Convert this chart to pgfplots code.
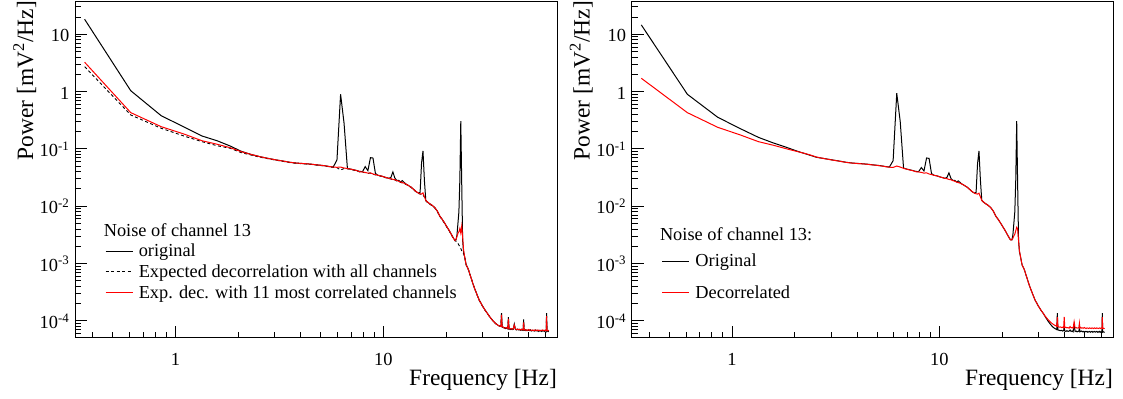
\documentclass[border=0pt]{standalone}
\usepackage{fontspec}
\setmainfont{Liberation Serif}
\usepackage{pgfplots}
\usepackage{pgfplotstable}
\pgfplotsset{compat=1.18}
% f : frequency; bl, da, re : left panel (original, all channels, 11 channels); rbl, rre : right panel
\pgfplotstableread{
f bl da re rbl rre
0.366 18.2 2.71 3.24 14.5 1.70
0.610 1.03 0.389 0.427 0.893 0.427
0.854 0.378 0.228 0.243 0.355 0.237
1.099 0.240 0.167 0.181 0.224 0.174
1.343 0.167 0.133 0.138 0.158 0.133
1.587 0.138 0.113 0.120 0.126 0.115
1.831 0.112 0.102 0.1045 0.106 0.100
2.075 0.0902 0.0855 0.0889 0.0902 0.0891
2.319 0.0794 0.0776 0.0794 0.0794 0.0804
2.563 0.0724 0.0711 0.0724 0.0708 0.0716
2.808 0.0676 0.0668 0.0676 0.0672 0.0670
3.052 0.0638 0.0631 0.0638 0.0638 0.0635
3.296 0.0610 0.0603 0.0610 0.0610 0.0607
3.540 0.0582 0.0575 0.0582 0.0582 0.0580
3.784 0.0565 0.0560 0.0565 0.0565 0.0563
4.028 0.0555 0.0550 0.0555 0.0555 0.0553
4.272 0.0547 0.0542 0.0547 0.0547 0.0545
4.517 0.0537 0.0532 0.0537 0.0537 0.0535
4.761 0.0525 0.0520 0.0525 0.0525 0.0523
5.005 0.0515 0.0510 0.0515 0.0515 0.0513
5.249 0.0504 0.0499 0.0504 0.0504 0.0502
5.493 0.0490 0.0485 0.0490 0.0490 0.0488
5.737 0.0479 0.0474 0.0479 0.0479 0.0477
5.981 0.0638 0.0468 0.0475 0.0620 0.0473
6.226 0.893 0.0427 0.0479 0.93 0.0500
6.470 0.279 0.0452 0.0462 0.30 0.0480
6.714 0.0455 0.0447 0.0452 0.0460 0.0455
6.958 0.0442 0.0437 0.0442 0.0442 0.0440
7.202 0.0429 0.0424 0.0429 0.0429 0.0427
7.446 0.0417 0.0413 0.0417 0.0417 0.0415
7.690 0.0403 0.0394 0.0398 0.0403 0.0398
7.935 0.0399 0.0390 0.0394 0.0399 0.0394
8.179 0.0488 0.0383 0.0387 0.0470 0.0387
8.423 0.0415 0.0372 0.0376 0.0410 0.0376
8.667 0.0700 0.0376 0.0380 0.0690 0.0380
8.911 0.0690 0.0359 0.0363 0.0680 0.0363
9.155 0.0372 0.0351 0.0355 0.0370 0.0355
9.399 0.0345 0.0341 0.0345 0.0345 0.0345
9.644 0.0339 0.0335 0.0339 0.0339 0.0339
9.888 0.0330 0.0326 0.0330 0.0330 0.0330
10.132 0.0320 0.0316 0.0320 0.0320 0.0320
10.376 0.0313 0.0309 0.0313 0.0313 0.0313
10.620 0.0305 0.0302 0.0305 0.0305 0.0305
10.864 0.0316 0.0297 0.0301 0.0316 0.0301
11.108 0.0394 0.0288 0.0292 0.0380 0.0292
11.353 0.0309 0.0285 0.0288 0.0305 0.0288
11.597 0.0279 0.0275 0.0279 0.0279 0.0279
11.841 0.0282 0.0269 0.0272 0.0282 0.0272
12.085 0.0263 0.0260 0.0263 0.0263 0.0263
12.329 0.0278 0.0254 0.0257 0.0275 0.0257
12.573 0.0260 0.0248 0.0251 0.0258 0.0251
12.817 0.0243 0.0240 0.0243 0.0243 0.0243
13.062 0.0234 0.0231 0.0234 0.0234 0.0234
13.306 0.0224 0.0221 0.0224 0.0224 0.0224
13.550 0.0216 0.0214 0.0216 0.0216 0.0216
13.794 0.0204 0.0202 0.0204 0.0204 0.0204
14.038 0.0193 0.0191 0.0193 0.0193 0.0193
14.282 0.0182 0.0180 0.0182 0.0182 0.0182
14.526 0.0174 0.0172 0.0174 0.0174 0.0174
14.771 0.0168 0.0166 0.0168 0.0168 0.0168
15.015 0.0174 0.0162 0.0164 0.0174 0.0164
15.259 0.0562 0.0160 0.0162 0.0550 0.0162
15.503 0.0916 0.0158 0.0170 0.0916 0.0168
15.747 0.0282 0.0143 0.0145 0.0290 0.0145
15.991 0.0126 0.0124 0.0126 0.0126 0.0126
16.235 0.0119 0.0117 0.0119 0.0119 0.0119
16.479 0.0114 0.0112 0.0114 0.0114 0.0114
16.724 0.01096 0.0108 0.01096 0.01096 0.01096
16.968 0.01059 0.0104 0.01059 0.01059 0.01059
17.212 0.01023 0.0101 0.01023 0.01023 0.01023
17.700 0.00933 0.0092 0.00933 0.00933 0.00933
18.189 0.00813 0.0080 0.00813 0.00813 0.00813
18.677 0.00668 0.0066 0.00668 0.00668 0.00668
19.165 0.00589 0.0058 0.00589 0.00589 0.00589
19.653 0.00513 0.00505 0.00513 0.00513 0.00513
20.142 0.00442 0.00435 0.00442 0.00442 0.00442
20.630 0.00385 0.0038 0.00385 0.00385 0.00385
21.118 0.00331 0.00327 0.00331 0.00331 0.00331
21.606 0.00285 0.00281 0.00285 0.00285 0.00285
21.850 0.00266 0.00262 0.00266 0.00266 0.00266
22.095 0.00257 0.00248 0.00251 0.00257 0.00256
22.339 0.00257 0.00245 0.00260 0.00257 0.00257
22.583 0.00313 0.00234 0.00293 0.00313 0.00275
22.827 0.00501 0.00224 0.00335 0.00501 0.00302
23.071 0.00794 0.00209 0.00355 0.00794 0.00324
23.316 0.0285 0.00195 0.00407 0.0285 0.00372
23.560 0.305 0.00182 0.00339 0.305 0.00427
23.804 0.0251 0.00166 0.00447 0.0251 0.00398
24.048 0.00251 0.00155 0.00288 0.00251 0.00251
24.292 0.00158 0.00148 0.00174 0.00158 0.00166
24.536 0.00135 0.00135 0.00135 0.00135 0.00135
24.781 0.00112 0.00112 0.00112 0.00112 0.00112
25.025 9.33e-4 9.33e-4 9.33e-4 9.33e-4 9.33e-4
25.269 8.71e-4 8.71e-4 8.71e-4 8.71e-4 8.71e-4
25.513 8.13e-4 8.13e-4 8.13e-4 8.13e-4 8.13e-4
25.757 7.41e-4 7.41e-4 7.41e-4 7.41e-4 7.41e-4
26.002 6.61e-4 6.61e-4 6.61e-4 6.61e-4 6.61e-4
26.490 5.37e-4 5.37e-4 5.37e-4 5.37e-4 5.37e-4
26.978 4.37e-4 4.37e-4 4.37e-4 4.37e-4 4.37e-4
27.466 3.63e-4 3.63e-4 3.63e-4 3.63e-4 3.63e-4
27.955 3.09e-4 3.09e-4 3.09e-4 3.09e-4 3.09e-4
28.443 2.63e-4 2.63e-4 2.63e-4 2.63e-4 2.63e-4
28.931 2.26e-4 2.26e-4 2.26e-4 2.26e-4 2.26e-4
29.419 2.04e-4 2.04e-4 2.04e-4 2.04e-4 2.04e-4
29.907 1.82e-4 1.82e-4 1.82e-4 1.82e-4 1.82e-4
30.396 1.66e-4 1.66e-4 1.66e-4 1.66e-4 1.66e-4
30.884 1.51e-4 1.51e-4 1.51e-4 1.51e-4 1.51e-4
31.372 1.40e-4 1.40e-4 1.40e-4 1.40e-4 1.40e-4
31.860 1.29e-4 1.29e-4 1.29e-4 1.29e-4 1.29e-4
32.349 1.19e-4 1.19e-4 1.19e-4 1.17e-4 1.19e-4
32.837 1.11e-4 1.11e-4 1.11e-4 1.08e-4 1.12e-4
33.325 1.035e-4 1.035e-4 1.035e-4 0.99e-4 1.05e-4
33.813 9.77e-5 9.77e-5 9.77e-5 9.2e-5 9.9e-5
34.302 9.23e-5 9.23e-5 9.23e-5 8.6e-5 9.4e-5
34.790 8.81e-5 8.81e-5 8.81e-5 8.1e-5 9.0e-5
35.278 8.51e-5 8.51e-5 8.51e-5 7.7e-5 8.7e-5
35.766 8.22e-5 8.22e-5 8.22e-5 7.4e-5 8.4e-5
36.255 8.04e-5 8.04e-5 8.04e-5 7.2e-5 8.2e-5
36.743 7.94e-5 7.94e-5 7.94e-5 7.0e-5 8.0e-5
36.987 1.35e-4 1.29e-4 1.26e-4 1.35e-4 1.15e-4
37.231 7.8e-5 7.9e-5 7.9e-5 6.9e-5 7.9e-5
37.719 7.6e-5 7.7e-5 7.7e-5 6.8e-5 7.7e-5
38.208 7.6e-5 7.4e-5 7.4e-5 6.7e-5 7.8e-5
38.696 7.3e-5 7.5e-5 7.5e-5 6.8e-5 7.6e-5
39.184 7.5e-5 7.6e-5 7.6e-5 6.6e-5 7.7e-5
39.672 7.2e-5 7.3e-5 7.3e-5 6.7e-5 7.5e-5
39.916 1.15e-4 1.07e-4 1.07e-4 8.0e-5 1.17e-4
40.160 7.3e-5 7.4e-5 7.4e-5 6.6e-5 7.6e-5
40.649 7.0e-5 7.2e-5 7.2e-5 6.5e-5 7.7e-5
41.137 7.2e-5 7.3e-5 7.3e-5 6.7e-5 7.5e-5
41.625 7.0e-5 7.1e-5 7.1e-5 6.5e-5 7.6e-5
42.113 7.1e-5 7.2e-5 7.2e-5 6.6e-5 7.4e-5
42.601 8.7e-5 8.4e-5 8.4e-5 6.9e-5 7.9e-5
43.090 7.1e-5 7.2e-5 7.2e-5 6.5e-5 7.5e-5
43.578 6.9e-5 7.0e-5 7.0e-5 6.6e-5 7.6e-5
44.066 7.1e-5 7.1e-5 7.1e-5 6.4e-5 7.4e-5
44.554 6.9e-5 7.0e-5 7.0e-5 8.5e-5 9.6e-5
45.043 7.0e-5 7.1e-5 7.1e-5 6.5e-5 7.5e-5
45.531 6.8e-5 6.9e-5 6.9e-5 6.6e-5 7.6e-5
46.019 7.0e-5 7.1e-5 7.1e-5 6.4e-5 7.4e-5
46.507 6.8e-5 6.9e-5 6.9e-5 6.5e-5 7.5e-5
46.996 6.9e-5 7.0e-5 7.0e-5 6.6e-5 7.6e-5
47.240 1.05e-4 9.3e-5 9.3e-5 8.5e-5 9.0e-5
47.484 6.8e-5 6.9e-5 6.9e-5 6.4e-5 7.4e-5
47.972 6.9e-5 7.0e-5 7.0e-5 6.5e-5 7.6e-5
48.460 6.7e-5 6.8e-5 6.8e-5 6.6e-5 7.4e-5
48.949 6.9e-5 6.9e-5 6.9e-5 6.4e-5 7.5e-5
49.437 6.7e-5 6.8e-5 6.8e-5 6.5e-5 7.4e-5
49.925 6.8e-5 7.0e-5 7.0e-5 6.3e-5 7.6e-5
50.414 6.7e-5 6.8e-5 6.8e-5 6.5e-5 7.4e-5
50.902 6.9e-5 6.9e-5 6.9e-5 6.4e-5 7.3e-5
51.390 6.6e-5 6.8e-5 6.8e-5 6.5e-5 7.5e-5
51.878 6.7e-5 6.8e-5 6.8e-5 6.3e-5 7.4e-5
52.367 6.8e-5 6.9e-5 6.9e-5 6.4e-5 7.3e-5
52.855 6.7e-5 6.7e-5 6.7e-5 6.5e-5 7.5e-5
53.343 6.6e-5 6.8e-5 6.8e-5 6.3e-5 7.4e-5
53.832 6.7e-5 6.9e-5 6.9e-5 6.4e-5 7.3e-5
54.320 6.8e-5 6.7e-5 6.7e-5 6.5e-5 7.5e-5
54.808 6.6e-5 6.8e-5 6.8e-5 6.3e-5 7.4e-5
55.296 6.7e-5 6.9e-5 6.9e-5 6.4e-5 7.3e-5
55.785 6.5e-5 6.7e-5 6.7e-5 6.5e-5 7.5e-5
56.273 6.7e-5 6.8e-5 6.8e-5 6.3e-5 7.4e-5
56.761 6.6e-5 6.8e-5 6.8e-5 6.4e-5 7.3e-5
57.249 6.7e-5 6.7e-5 6.7e-5 6.5e-5 7.5e-5
57.738 6.5e-5 6.8e-5 6.8e-5 6.3e-5 7.4e-5
58.226 6.7e-5 6.9e-5 6.9e-5 6.4e-5 7.3e-5
58.714 6.6e-5 6.7e-5 6.7e-5 6.3e-5 7.4e-5
59.202 6.7e-5 6.8e-5 6.8e-5 6.5e-5 7.5e-5
59.691 6.5e-5 6.7e-5 6.7e-5 6.3e-5 7.3e-5
60.179 6.7e-5 6.8e-5 6.8e-5 6.4e-5 7.4e-5
60.667 6.6e-5 6.8e-5 6.8e-5 6.4e-5 7.4e-5
60.911 1.35e-4 1.20e-4 1.20e-4 1.35e-4 1.15e-4
61.155 6.5e-5 6.7e-5 6.7e-5 6.3e-5 7.3e-5
61.643 6.7e-5 6.8e-5 6.8e-5 6.4e-5 7.4e-5
62.132 6.5e-5 6.7e-5 6.7e-5 6.3e-5 7.3e-5
62.376 6.6e-5 6.8e-5 6.8e-5 6.4e-5 7.4e-5
}\psd

\begin{document}
\begin{tikzpicture}[x=1bp,y=1bp]
\path[use as bounding box] (0,0) rectangle (1123,398);

% ---------- left panel ----------
\begin{loglogaxis}[
  scale only axis, height=336.5bp, width=482.3bp,
  at={(75bp,60.5bp)}, anchor=south west,
  xmin=0.329, xmax=68.6, ymin=5.09e-5, ymax=37.9,
  axis line style={line width=0.8bp},
  tick align=inside,
  xtick pos=left, ytick pos=left,
  xtick={1,10}, xticklabels={1,10},
  minor xtick={0.4,0.5,0.6,0.7,0.8,0.9,2,3,4,5,6,7,8,9,20,30,40,50,60},
  ytick={1e-4,1e-3,1e-2,1e-1,1,10},
  yticklabels={10\textsuperscript{-4},10\textsuperscript{-3},10\textsuperscript{-2},10\textsuperscript{-1},1,10},
  minor ytick={6e-5,7e-5,8e-5,9e-5,2e-4,3e-4,4e-4,5e-4,6e-4,7e-4,8e-4,9e-4,2e-3,3e-3,4e-3,5e-3,6e-3,7e-3,8e-3,9e-3,0.02,0.03,0.04,0.05,0.06,0.07,0.08,0.09,0.2,0.3,0.4,0.5,0.6,0.7,0.8,0.9,2,3,4,5,6,7,8,9,20,30},
  major tick length=12bp, minor tick length=6bp,
  tick style={line width=0.7bp,black},
  tick label style={font=\fontsize{18.5}{20}\selectfont},
  xticklabel style={anchor=base, inner sep=0pt, yshift=-27.5bp},
  yticklabel style={anchor=base east, inner sep=0pt, xshift=-5.5bp, yshift=-7.75bp},
  legend cell align=left,
  legend style={at={(axis description cs:0.0622,0.2788)}, anchor=north west,
    draw=white, line width=0pt, fill=none, inner sep=0pt, outer sep=0pt,
    row sep=3.8bp, column sep=5.5bp,
    font=\fontsize{18.4}{20}\selectfont,
    nodes={inner sep=0pt, text height=13bp, text depth=4bp, anchor=base west}}]
\addplot[black, line width=1bp, mark=none,
  legend image code/.code={\draw[draw=black, line width=1.2bp] (0bp,5.5bp) -- (27bp,5.5bp);}]
  table[x=f,y=bl]{\psd};
\addlegendentry{original}
\addplot[black, line width=0.9bp, dash pattern=on 3bp off 2.5bp, mark=none,
  legend image code/.code={\draw[draw=black, line width=1bp, dash pattern=on 3bp off 2.5bp] (0bp,5.5bp) -- (27bp,5.5bp);}]
  table[x=f,y=da]{\psd};
\addlegendentry{Expected decorrelation with all channels}
\addplot[red, line width=1bp, mark=none,
  legend image code/.code={\draw[draw=red, line width=1.3bp] (0bp,5.5bp) -- (27bp,5.5bp);}]
  table[x=f,y=re]{\psd};
\addlegendentry{Exp. dec. with 11 most correlated channels}
\end{loglogaxis}

% ---------- right panel ----------
\begin{loglogaxis}[
  scale only axis, height=336.5bp, width=481.3bp,
  at={(631.7bp,60.5bp)}, anchor=south west,
  xmin=0.329, xmax=68.6, ymin=5.09e-5, ymax=37.9,
  axis line style={line width=0.8bp},
  tick align=inside,
  xtick pos=left, ytick pos=left,
  xtick={1,10}, xticklabels={1,10},
  minor xtick={0.4,0.5,0.6,0.7,0.8,0.9,2,3,4,5,6,7,8,9,20,30,40,50,60},
  ytick={1e-4,1e-3,1e-2,1e-1,1,10},
  yticklabels={10\textsuperscript{-4},10\textsuperscript{-3},10\textsuperscript{-2},10\textsuperscript{-1},1,10},
  minor ytick={6e-5,7e-5,8e-5,9e-5,2e-4,3e-4,4e-4,5e-4,6e-4,7e-4,8e-4,9e-4,2e-3,3e-3,4e-3,5e-3,6e-3,7e-3,8e-3,9e-3,0.02,0.03,0.04,0.05,0.06,0.07,0.08,0.09,0.2,0.3,0.4,0.5,0.6,0.7,0.8,0.9,2,3,4,5,6,7,8,9,20,30},
  major tick length=12bp, minor tick length=6bp,
  tick style={line width=0.7bp,black},
  tick label style={font=\fontsize{18.5}{20}\selectfont},
  xticklabel style={anchor=base, inner sep=0pt, yshift=-27.5bp},
  yticklabel style={anchor=base east, inner sep=0pt, xshift=-5.5bp, yshift=-7.75bp},
  legend cell align=left,
  legend style={at={(axis description cs:0.0623,0.249)}, anchor=north west,
    draw=white, line width=0pt, fill=none, inner sep=0pt, outer sep=0pt,
    row sep=14.6bp, column sep=5.5bp,
    font=\fontsize{18.4}{20}\selectfont,
    nodes={inner sep=0pt, text height=13bp, text depth=4bp, anchor=base west}}]
\addplot[black, line width=1bp, mark=none,
  legend image code/.code={\draw[draw=black, line width=1.2bp] (0bp,5.5bp) -- (27bp,5.5bp);}]
  table[x=f,y=rbl]{\psd};
\addlegendentry{Original}
\addplot[red, line width=1bp, mark=none,
  legend image code/.code={\draw[draw=red, line width=1.3bp] (0bp,5.5bp) -- (27bp,5.5bp);}]
  table[x=f,y=rre]{\psd};
\addlegendentry{Decorrelated}
\end{loglogaxis}

% ---------- titles and legend headers ----------
\node[rotate=90, anchor=base east, inner sep=0pt, font=\fontsize{23.5}{26}\selectfont] at (33,397) {Power [mV\textsuperscript{2}/Hz]};
\node[rotate=90, anchor=base east, inner sep=0pt, font=\fontsize{23.5}{26}\selectfont] at (589.7,397) {Power [mV\textsuperscript{2}/Hz]};
\node[anchor=base east, inner sep=0pt, font=\fontsize{23.5}{26}\selectfont] at (557,13) {Frequency [Hz]};
\node[anchor=base east, inner sep=0pt, font=\fontsize{23.5}{26}\selectfont] at (1113,13) {Frequency [Hz]};
\node[anchor=base west, inner sep=0pt, font=\fontsize{18.4}{20}\selectfont] at (103.6,161.3) {Noise of channel 13};
\node[anchor=base west, inner sep=0pt, font=\fontsize{18.4}{20}\selectfont] at (659.8,157.3) {Noise of channel 13:};
\end{tikzpicture}
\end{document}
